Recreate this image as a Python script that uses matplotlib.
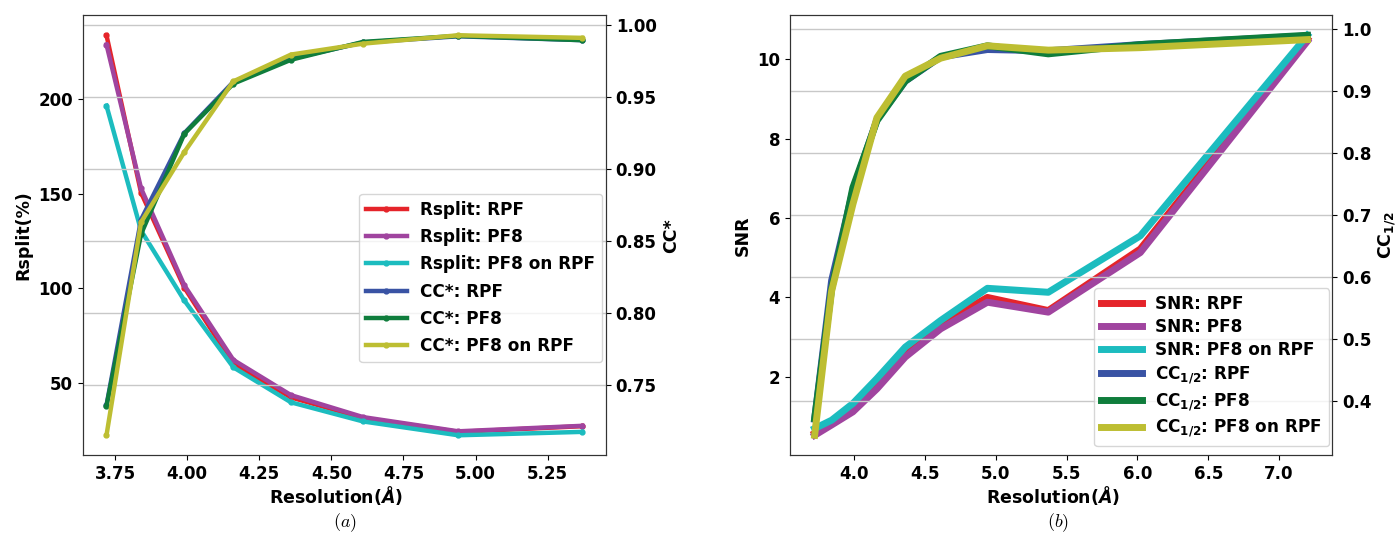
import matplotlib
matplotlib.use("Agg")
import matplotlib.pyplot as plt

plt.rcParams["font.family"] = ["DejaVu Sans"]
plt.rcParams["font.weight"] = "bold"
plt.rcParams["axes.labelweight"] = "bold"
plt.rcParams["mathtext.fontset"] = "custom"
plt.rcParams["mathtext.rm"] = "DejaVu Sans:bold"
plt.rcParams["mathtext.bf"] = "DejaVu Sans:bold"
plt.rcParams["mathtext.it"] = "DejaVu Sans:bold:italic"

# ---- data: panel (a) ----
res_a = [3.72, 3.84, 3.99, 4.16, 4.36, 4.61, 4.94, 5.37]
rsplit_rpf = [233.7, 150.5, 100.4, 60.0, 42.4, 31.5, 24.2, 27.2]
rsplit_pf8 = [228.8, 152.8, 101.6, 62.2, 43.6, 32.0, 24.5, 27.4]
rsplit_pf8_on_rpf = [196.5, 130.5, 93.6, 58.3, 39.8, 29.7, 22.4, 24.2]
ccstar_rpf = [0.736, 0.865, 0.925, 0.9606, 0.9768, 0.9880, 0.9923, 0.9896]
ccstar_pf8 = [0.7356, 0.855, 0.9246, 0.9594, 0.9760, 0.9884, 0.9926, 0.9896]
ccstar_pf8_on_rpf = [0.7152, 0.8632, 0.9119, 0.9610, 0.9796, 0.9872, 0.9930, 0.9912]

# ---- data: panel (b) ----
res_b = [3.72, 3.84, 3.99, 4.16, 4.36, 4.61, 4.94, 5.37, 6.02, 7.20]
snr_rpf = [0.58, 0.83, 1.20, 1.79, 2.63, 3.34, 4.00, 3.67, 5.22, 10.50]
snr_pf8 = [0.53, 0.79, 1.12, 1.70, 2.50, 3.21, 3.88, 3.63, 5.13, 10.45]
snr_pf8_on_rpf = [0.70, 0.91, 1.33, 1.96, 2.75, 3.42, 4.23, 4.13, 5.55, 10.60]
cchalf_rpf = [0.370, 0.594, 0.739, 0.854, 0.916, 0.955, 0.967, 0.965, 0.975, 0.989]
cchalf_pf8 = [0.371, 0.580, 0.744, 0.852, 0.916, 0.956, 0.973, 0.960, 0.975, 0.990]
cchalf_pf8_on_rpf = [0.344, 0.577, 0.717, 0.857, 0.924, 0.953, 0.973, 0.966, 0.970, 0.983]

labels_rsplit = ["Rsplit: RPF", "Rsplit: PF8", "Rsplit: PF8 on RPF"]
labels_ccstar = ["CC*: RPF", "CC*: PF8", "CC*: PF8 on RPF"]
labels_snr = ["SNR: RPF", "SNR: PF8", "SNR: PF8 on RPF"]
labels_cchalf = [r"CC$_{1/2}$: RPF", r"CC$_{1/2}$: PF8", r"CC$_{1/2}$: PF8 on RPF"]

c_red, c_purple, c_cyan = "#e5242a", "#a0449f", "#1cbcbf"
c_blue, c_green, c_olive = "#3953a4", "#0f7d3c", "#bdbe32"

TICK_FS = 12
LABEL_FS = 12.5
LEGEND_FS = 12.2

fig = plt.figure(figsize=(13.97, 5.36), dpi=100)

# ---------------- panel (a) ----------------
ax1 = fig.add_axes([0.0592, 0.1506, 0.3746, 0.8209])
ax2 = ax1.twinx()
lw_a, ms_a = 3.2, 7
h = []
for y, c, lab in zip([rsplit_rpf, rsplit_pf8, rsplit_pf8_on_rpf],
                     [c_red, c_purple, c_cyan], labels_rsplit):
    h += ax1.plot(res_a, y, color=c, lw=lw_a, marker=".", ms=ms_a, label=lab)
for y, c, lab in zip([ccstar_rpf, ccstar_pf8, ccstar_pf8_on_rpf],
                     [c_blue, c_green, c_olive], labels_ccstar):
    h += ax2.plot(res_a, y, color=c, lw=lw_a, marker=".", ms=ms_a, label=lab)
ax2.grid(True, axis="y", color="#c8c8c8", lw=1.0)
ax1.set_xlabel(r"Resolution($\mathit{Å}$)", fontsize=LABEL_FS, labelpad=1)
ax1.xaxis.label.set_x(0.485)
ax1.set_ylabel("Rsplit(%)", fontsize=LABEL_FS)
ax2.set_ylabel("CC*", fontsize=LABEL_FS)
ax2.legend(h, [l.get_label() for l in h], loc="upper right",
           bbox_to_anchor=(0.9924, 0.594), borderaxespad=0,
           fontsize=LEGEND_FS, handlelength=2.4, labelspacing=0.55)

# ---------------- panel (b) ----------------
ax3 = fig.add_axes([0.5655, 0.1506, 0.3880, 0.8209])
ax4 = ax3.twinx()
lw_b = 5
h = []
for y, c, lab in zip([snr_rpf, snr_pf8, snr_pf8_on_rpf],
                     [c_red, c_purple, c_cyan], labels_snr):
    h += ax3.plot(res_b, y, color=c, lw=lw_b, label=lab)
for y, c, lab in zip([cchalf_rpf, cchalf_pf8, cchalf_pf8_on_rpf],
                     [c_blue, c_green, c_olive], labels_cchalf):
    h += ax4.plot(res_b, y, color=c, lw=lw_b, label=lab)
ax4.grid(True, axis="y", color="#c8c8c8", lw=1.0)
ax3.set_xlabel(r"Resolution($\mathit{Å}$)", fontsize=LABEL_FS, labelpad=1)
ax3.xaxis.label.set_x(0.485)
ax3.set_ylabel("SNR", fontsize=LABEL_FS)
ax4.set_ylabel(r"CC$_{1/2}$", fontsize=LABEL_FS)
ax4.legend(h, [l.get_label() for l in h], loc="lower right",
           bbox_to_anchor=(0.9945, 0.021), borderaxespad=0,
           fontsize=LEGEND_FS, handlelength=2.4, labelspacing=0.3)

for ax in (ax1, ax2, ax3, ax4):
    ax.tick_params(labelsize=TICK_FS)
    for t in ax.get_xticklabels() + ax.get_yticklabels():
        t.set_fontweight("bold")
    for s in ax.spines.values():
        s.set_color("#333333")

fig.text(0.247, 0.024, r"$(a)$", ha="center", va="center",
         fontsize=13, math_fontfamily="cm")
fig.text(0.757, 0.024, r"$(b)$", ha="center", va="center",
         fontsize=13, math_fontfamily="cm")

fig.savefig("out.png", dpi=100)
